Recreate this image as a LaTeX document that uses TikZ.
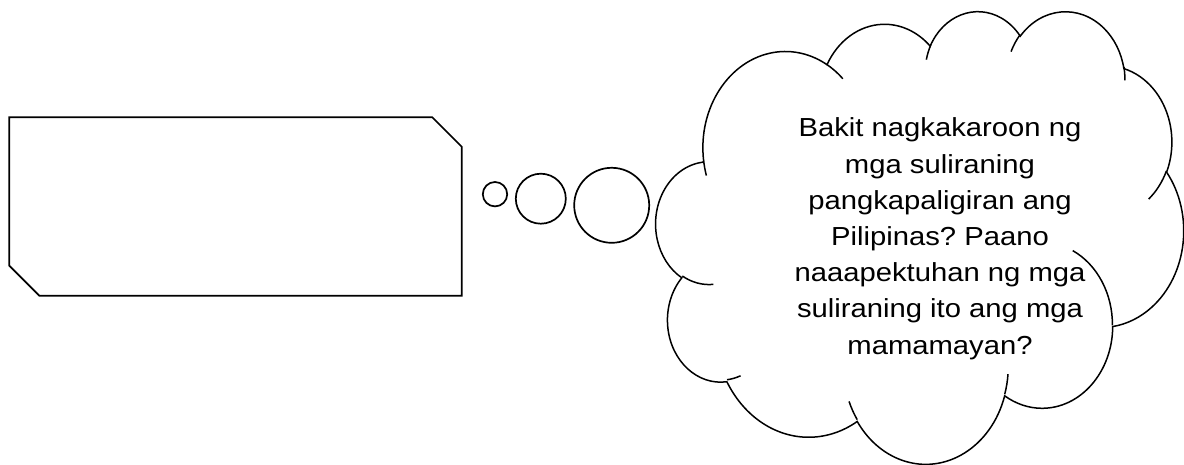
\documentclass[tikz,border=0pt]{standalone}
\usepackage{fontspec}
\setmainfont{Liberation Sans}[FakeStretch=1.12]
\usepackage{tikz}
\frenchspacing
\newcommand{\cloudarc}[4]{arc[x radius=#1, y radius=#2, start angle={atan2(#1*sin(#3),#2*cos(#3))}, delta angle={Mod(atan2(#1*sin(#3+#4),#2*cos(#3+#4))-atan2(#1*sin(#3),#2*cos(#3)),360)}]}

\begin{document}
\begin{tikzpicture}[x=1pt,y=1pt,
  outline/.style={black,line width=1.7pt},
  puff/.style={black,line width=1.5pt}]
\useasboundingbox (0,0) rectangle (1184,464);

\draw[outline] (9.3,346.7) -- (432.3,346.7) -- (461.7,317.3) -- (461.7,168.3)
  -- (39.3,168.3) -- (9.3,198.3) -- cycle;

\draw[outline] (495.0,269.8) circle (12.2);
\draw[outline] (540.8,265.3) circle (25.0);
\draw[outline] (611.7,258.7) circle (37.5);

\begin{scope}[shift={(656.0,453.8)},xscale=1.22106,yscale=-1.04745]
\draw[puff] (39.00,143.70) \cloudarc{67.53}{91.90}{-190.48748}{123.78053}
  \cloudarc{53.33}{72.67}{-144.10238}{89.94523}
  \cloudarc{43.65}{59.45}{-145.80792}{99.72302}
  \cloudarc{48.57}{65.95}{-130.98607}{117.24173}
  \cloudarc{53.33}{72.73}{-78.70888}{109.02692}
  \cloudarc{67.75}{92.20}{-46.26725}{130.269}
  \cloudarc{57.85}{78.67}{0.62502}{114.03333}
  \cloudarc{67.52}{92.15}{22.4516}{115.17255}
  \cloudarc{77.20}{105.43}{66.24263}{75.71102}
  \cloudarc{43.60}{59.18}{-274.94208}{146.73557}
  \cloudarc{43.45}{59.45}{-246.8285}{152.51885} -- cycle;

\draw[puff] (46.93,261.77) \cloudarc{43.45}{59.45}{86.742}{26.4295};
\draw[puff] (69.28,348.99) \cloudarc{43.60}{59.18}{73.61047}{11.44747};
\draw[puff] (164.78,390.90) \cloudarc{67.52}{92.15}{137.62415}{14.0811};
\draw[puff] (288.27,347.51) \cloudarc{67.52}{92.15}{6.45327}{15.99835};
\draw[puff] (341.29,229.54) \cloudarc{57.85}{78.67}{-70.29235}{70.91737};
\draw[puff] (417.98,153.54) \cloudarc{53.33}{72.73}{30.31803}{27.7515};
\draw[puff] (383.24,54.26) \cloudarc{48.57}{65.95}{-13.74433}{14.8589};
\draw[puff] (290.78,39.52) \cloudarc{48.57}{65.95}{-149.18145}{18.19537};
\draw[puff] (221.41,47.20) \cloudarc{43.65}{59.45}{-163.49427}{17.68635};
\draw[puff] (140.00,51.92) \cloudarc{67.53}{91.90}{-66.70695}{12.31935};
\draw[puff] (41.27,157.89) \cloudarc{67.53}{91.90}{157.65435}{11.85817};
\end{scope}

\node[align=center,inner sep=0pt,font=\fontsize{26.1pt}{36.2pt}\selectfont] (question) at (940,225.3)
  {Bakit nagkakaroon ng\\mga suliraning\\pangkapaligiran ang\\Pilipinas? Paano\\naaapektuhan ng mga\\suliraning ito ang mga\\mamamayan?};
\end{tikzpicture}
\end{document}
